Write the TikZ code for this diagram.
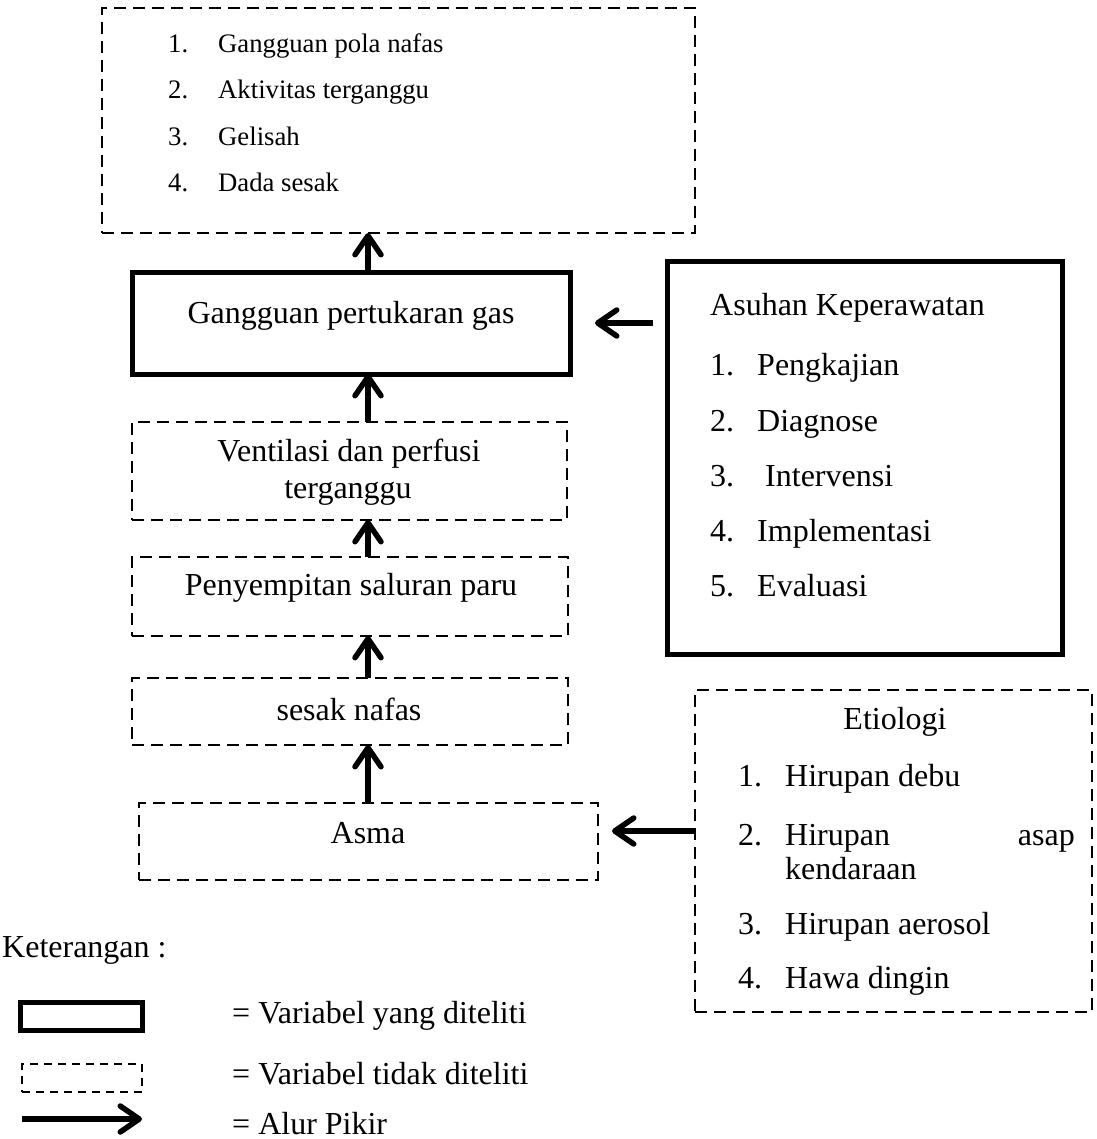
\documentclass[tikz,border=0pt]{standalone}
\usepackage{fontspec}
\setmainfont{Liberation Serif}
\usetikzlibrary{arrows.meta}
\begin{document}
\begin{tikzpicture}[x=1pt,y=-1pt,
  solidbox/.style={draw, line width=5pt, inner sep=0pt, outer sep=0pt},
  dashbox/.style={draw, line width=2.8pt, dash pattern=on 12pt off 7pt, inner sep=0pt, outer sep=0pt},
  arr/.style={line width=5.5pt, -{Straight Barb[length=19pt,width=26pt,round]}},
  txt/.style={font=\fontsize{32}{38}\selectfont, anchor=base, inner sep=0pt},
  txtw/.style={txt, anchor=base west},
  txte/.style={txt, anchor=base east},
  small/.style={font=\fontsize{26.7}{32}\selectfont, anchor=base west, inner sep=0pt}]
\useasboundingbox (0,0) rectangle (1096,1139);

% boxes
\node[dashbox, minimum width=593, minimum height=225] (top) at (398.5,120.5) {};
\node[solidbox, minimum width=438, minimum height=101] (gpg) at (351,323.5) {};
\node[dashbox, minimum width=435, minimum height=98] (vent) at (349.5,471) {};
\node[dashbox, minimum width=436, minimum height=79] (peny) at (350,596.5) {};
\node[dashbox, minimum width=436, minimum height=67] (sesak) at (350,711.5) {};
\node[dashbox, minimum width=459, minimum height=77] (asma) at (368.5,841.5) {};
\node[solidbox, minimum width=395, minimum height=392] (asuhan) at (864.5,458) {};
\node[dashbox, minimum width=397, minimum height=322] (etio) at (893.5,851) {};

% top list
\node[small] (t1n) at (168,53) {1.};
\node[small] (t1) at (218,53) {Gangguan pola nafas};
\node[small] (t2n) at (168,99) {2.};
\node[small] (t2) at (218,99) {Aktivitas terganggu};
\node[small] (t3n) at (168,146) {3.};
\node[small] (t3) at (218,146) {Gelisah};
\node[small] (t4n) at (168,192) {4.};
\node[small] (t4) at (218,192) {Dada sesak};

% chain texts
\node[txt] (gpgt) at (351,323) {Gangguan pertukaran gas};
\node[txt] (vent1) at (349,461) {Ventilasi dan perfusi};
\node[txt] (vent2) at (348,498) {terganggu};
\node[txt] (penyt) at (351,595) {Penyempitan saluran paru};
\node[txt] (sesakt) at (349,720) {sesak nafas};
\node[txt] (asmat) at (368,843) {Asma};

% asuhan
\node[txtw] (ah) at (710,315) {Asuhan Keperawatan};
\node[txtw] (a1n) at (710,375) {1.};
\node[txtw] (a1) at (757,375) {Pengkajian};
\node[txtw] (a2n) at (710,431) {2.};
\node[txtw] (a2) at (757,431) {Diagnose};
\node[txtw] (a3n) at (710,486) {3.};
\node[txtw] (a3) at (765,486) {Intervensi};
\node[txtw] (a4n) at (710,541) {4.};
\node[txtw] (a4) at (757,541) {Implementasi};
\node[txtw] (a5n) at (710,596) {5.};
\node[txtw] (a5) at (757,596) {Evaluasi};

% etiologi
\node[txt] (eh) at (895,729) {Etiologi};
\node[txtw] (e1n) at (738,786) {1.};
\node[txtw] (e1) at (785,786) {Hirupan debu};
\node[txtw] (e2n) at (738,845) {2.};
\node[txtw] (e2) at (785,845) {Hirupan};
\node[txte] (e2b) at (1075,845) {asap};
\node[txtw] (e2c) at (785,879) {kendaraan};
\node[txtw] (e3n) at (738,934) {3.};
\node[txtw] (e3) at (785,934) {Hirupan aerosol};
\node[txtw] (e4n) at (738,988) {4.};
\node[txtw] (e4) at (785,988) {Hawa dingin};

% arrows in chain
\coordinate (ax) at (368,0);
\draw[arr] (gpg.north -| ax) -- (top.south -| ax);
\draw[arr] (vent.north -| ax) -- (gpg.south -| ax);
\draw[arr] (peny.north -| ax) -- (vent.south -| ax);
\draw[arr] (sesak.north -| ax) -- (peny.south -| ax);
\draw[arr] (asma.north -| ax) -- (sesak.south -| ax);

\coordinate (h1) at (653,323);
\coordinate (h2) at (595,323);
\draw[arr] (h1) -- (h2);
\coordinate (g1) at (695,831);
\coordinate (g2) at (612,831);
\draw[arr] (g1) -- (g2);

% legend
\node[txtw] (ket) at (2,957) {Keterangan :};
\node[solidbox, minimum width=122, minimum height=28] (lsolid) at (81,1016) {};
\node[dashbox, dash pattern=on 8pt off 6pt, minimum width=120, minimum height=28] (ldash) at (82,1078) {};
\coordinate (l1) at (22,1119);
\coordinate (l2) at (142,1119);
\draw[arr] (l1) -- (l2);
\node[txtw] (lt1) at (232,1023) {= Variabel yang diteliti};
\node[txtw] (lt2) at (232,1084) {= Variabel tidak diteliti};
\node[txtw] (lt3) at (232,1134) {= Alur Pikir};
\end{tikzpicture}
\end{document}
